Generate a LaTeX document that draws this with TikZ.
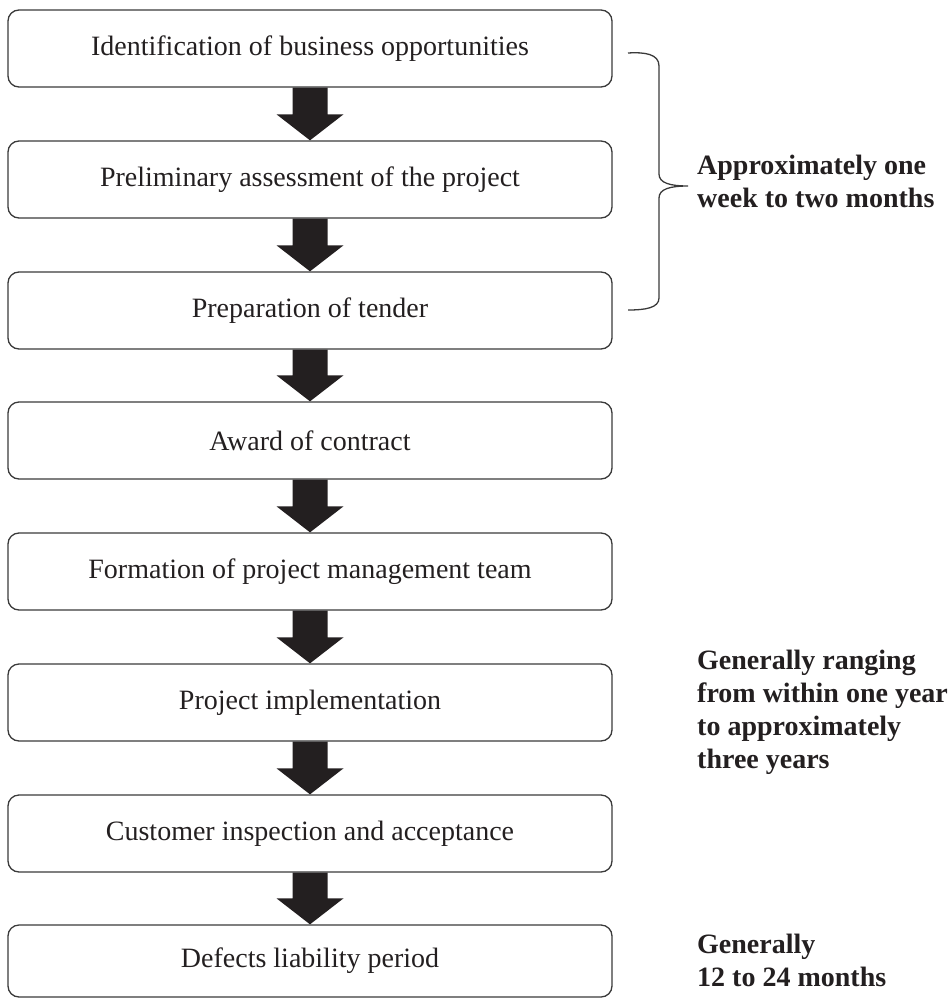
\documentclass[tikz,border=0pt]{standalone}
\usepackage{fontspec}
\setmainfont{Liberation Serif}
\usetikzlibrary{calc}
\definecolor{boxline}{HTML}{3A3A3A}
\definecolor{arrowc}{HTML}{231F20}
\definecolor{textc}{HTML}{231F20}
\newcommand{\fatarrow}[2]{%
  \fill[arrowc] ($(#1.south)+(-17.5,0)$) -- ($(#1.south)+(17.5,0)$) --
    ($(#2.north)+(17.5,-26)$) -- ($(#2.north)+(33.5,-26)$) -- (#2.north) --
    ($(#2.north)+(-33.5,-26)$) -- ($(#2.north)+(-17.5,-26)$) -- cycle;}
\begin{document}
\begin{tikzpicture}[x=1pt,y=-1pt,
  stepbox/.style={draw=boxline, line width=1.3pt, rounded corners=11pt,
    minimum width=604pt, minimum height=77pt, inner sep=0pt,
    font=\fontsize{28}{33}\selectfont, text=textc},
  note/.style={anchor=west, align=left, inner sep=0pt,
    font=\bfseries\fontsize{28}{33}\selectfont, text=textc},
  bracepath/.style={draw=boxline, line width=1.3pt}]
\useasboundingbox (0,0) rectangle (952,998);
\node[stepbox] (b1) at (310,48.5) {Identification of business opportunities};
\node[stepbox] (b2) at (310,179.5) {Preliminary assessment of the project};
\node[stepbox] (b3) at (310,310.5) {Preparation of tender};
\node[stepbox] (b4) at (310,440.5) {Award of contract};
\node[stepbox] (b5) at (310,571.5) {Formation of project management team};
\node[stepbox] (b6) at (310,702.5) {Project implementation};
\node[stepbox] (b7) at (310,833.5) {Customer inspection and acceptance};
\node[stepbox, minimum height=72pt] (b8) at (310,961) {Defects liability period};
\fatarrow{b1}{b2}
\fatarrow{b2}{b3}
\fatarrow{b3}{b4}
\fatarrow{b4}{b5}
\fatarrow{b5}{b6}
\fatarrow{b6}{b7}
\fatarrow{b7}{b8}
\coordinate (brtop) at (628,53);
\coordinate (brtip) at (688,186);
\coordinate (brbot) at (628,310);
\draw[bracepath] (brtop) .. controls (645,52) and (659,54) .. (659,66) -- (659,174)
  .. controls (659,183) and (670,186) .. (brtip)
  .. controls (670,186) and (659,189) .. (659,198) -- (659,298)
  .. controls (659,308) and (645,310) .. (brbot);
\node[note] (t1) at (697,181) {Approximately one\\week to two months};
\node[note] (t2) at (697,712) {Generally ranging\\from within one year\\to approximately\\three years};
\node[note] (t3) at (697,960) {Generally\\12 to 24 months};
\end{tikzpicture}
\end{document}
